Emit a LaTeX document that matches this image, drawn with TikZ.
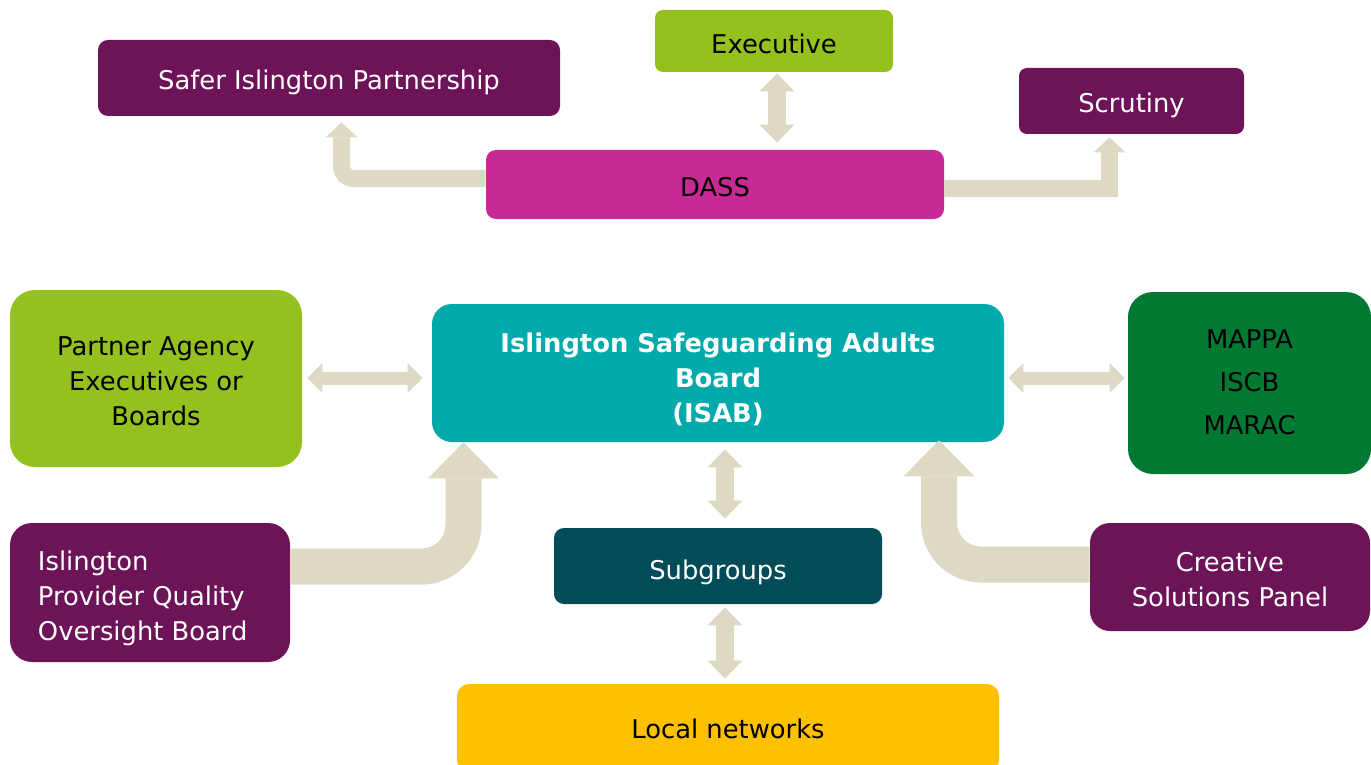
\documentclass[tikz,border=0pt]{standalone}
\usepackage{fontspec}
\setmainfont{DejaVu Sans}
\usetikzlibrary{arrows.meta,calc}
\definecolor{cpurple}{HTML}{6C1457}
\definecolor{cgreen}{HTML}{95C11F}
\definecolor{cmagenta}{HTML}{C72A95}
\definecolor{cteal}{HTML}{00A9AA}
\definecolor{cdkgreen}{HTML}{007A33}
\definecolor{cdkteal}{HTML}{004C58}
\definecolor{cyellow}{HTML}{FFC000}
\definecolor{cbeige}{HTML}{DDD9C3}
\newcommand{\lowertext}[2]{\raisebox{-#1}[\height][\depth]{#2}}
\tikzset{
  box/.style={rectangle, draw=none, inner sep=2pt, align=center,
    font=\fontsize{12.9pt}{17.5pt}\selectfont},
  bendarrow/.style={draw=cbeige, line width=8.5pt,
    -{Triangle[width=16pt,length=7.5pt,line width=0pt]}},
  bigarrow/.style={draw=cbeige, line width=18pt,
    -{Triangle[width=35.5pt,length=18pt,line width=0pt]}},
  hdarrow/.style={draw=cbeige, line width=6.5pt,
    {Triangle[width=15pt,length=7.5pt,line width=0pt]}-{Triangle[width=15pt,length=7.5pt,line width=0pt]}},
  vdarrow/.style={draw=cbeige, line width=9pt,
    {Triangle[width=17.5pt,length=9pt,line width=0pt]}-{Triangle[width=17.5pt,length=9pt,line width=0pt]}},
}
\begin{document}
\begin{tikzpicture}[x=0.5pt,y=-0.5pt]
\clip (0,0) rectangle (1371,765);
\fill[white] (0,0) rectangle (1371,765);

\node[box, fill=cpurple, text=white, rounded corners=5pt, minimum width=231pt, minimum height=38pt] (sip) at (329,78) {\lowertext{2pt}{Safer Islington Partnership}};
\node[box, fill=cgreen, text=black, rounded corners=4pt, minimum width=119pt, minimum height=31pt] (exe) at (774,41) {\lowertext{1.5pt}{Executive}};
\node[box, fill=cpurple, text=white, rounded corners=4pt, minimum width=112.5pt, minimum height=33pt] (scr) at (1131.5,101) {\lowertext{2pt}{Scrutiny}};
\node[box, fill=cmagenta, text=black, rounded corners=5pt, minimum width=229pt, minimum height=34.5pt] (dass) at (715,184.5) {\lowertext{1.2pt}{DASS}};

\node[box, fill=cgreen, text=black, rounded corners=12.5pt, minimum width=146pt, minimum height=88.5pt] (pa) at (156,378.5) {\lowertext{1.5pt}{\parbox{140pt}{\centering Partner Agency\\Executives or\\Boards}}};
\node[box, fill=cteal, text=white, rounded corners=10pt, minimum width=286pt, minimum height=69pt, font=\fontsize{12.9pt}{17.5pt}\selectfont\bfseries] (isab) at (718,373) {\lowertext{3pt}{\parbox{280pt}{\centering Islington Safeguarding Adults\\Board\\(ISAB)}}};
\node[box, fill=cdkgreen, text=black, rounded corners=12.5pt, minimum width=121.5pt, minimum height=91pt, font=\fontsize{12.9pt}{21.5pt}\selectfont] (mappa) at (1249.5,383) {\lowertext{-0.5pt}{\parbox{110pt}{\centering MAPPA\\ISCB\\MARAC}}};

\node[box, fill=cpurple, text=white, rounded corners=11pt, minimum width=140pt, minimum height=69.5pt] (pqo) at (150,592.5) {\lowertext{3pt}{\parbox{112pt}{\raggedright Islington\\Provider Quality\\Oversight Board}}};
\node[box, fill=cdkteal, text=white, rounded corners=5pt, minimum width=164pt, minimum height=38pt] (sub) at (718,566) {\lowertext{3pt}{Subgroups}};
\node[box, fill=cpurple, text=white, rounded corners=10pt, minimum width=140pt, minimum height=54pt] (csp) at (1230,577) {\lowertext{1.25pt}{\parbox{136pt}{\centering Creative\\Solutions Panel}}};
\node[box, fill=cyellow, text=black, rounded corners=6pt, minimum width=271pt, minimum height=44pt] (ln) at (728,728) {\lowertext{0.5pt}{Local networks}};

% bent arrows from DASS
\draw[bendarrow, rounded corners=6pt] ($(dass.west)+(0,-6)$) -| ($(sip.south)+(12.5,6)$);
\draw[bendarrow] ($(dass.east)+(0,3.5)$) -| ($(scr.south)+(-22,3)$);

% big bent arrows into ISAB
\draw[bigarrow, rounded corners=21pt] ($(pqo.east)+(0,-26)$) -| ($(isab.south)+(-254.5,0)$);
\draw[bigarrow, rounded corners=21pt] ($(csp.west)+(0,-12.5)$) -| ($(isab.south)+(221,-2)$);

% double arrows
\draw[vdarrow] ($(exe.south)+(3,1)$) -- ($(dass.north)+(62,-7)$);
\draw[hdarrow] ($(pa.east)+(5,-0.5)$) -- ($(isab.west)+(-9,5)$);
\draw[hdarrow] ($(isab.east)+(4,5)$) -- ($(mappa.west)+(-3,-5)$);
\draw[vdarrow] ($(isab.south)+(7,7)$) -- ($(sub.north)+(7,-9)$);
\draw[vdarrow] ($(sub.south)+(7,3)$) -- ($(ln.north)+(-3,-5)$);
\end{tikzpicture}
\end{document}
